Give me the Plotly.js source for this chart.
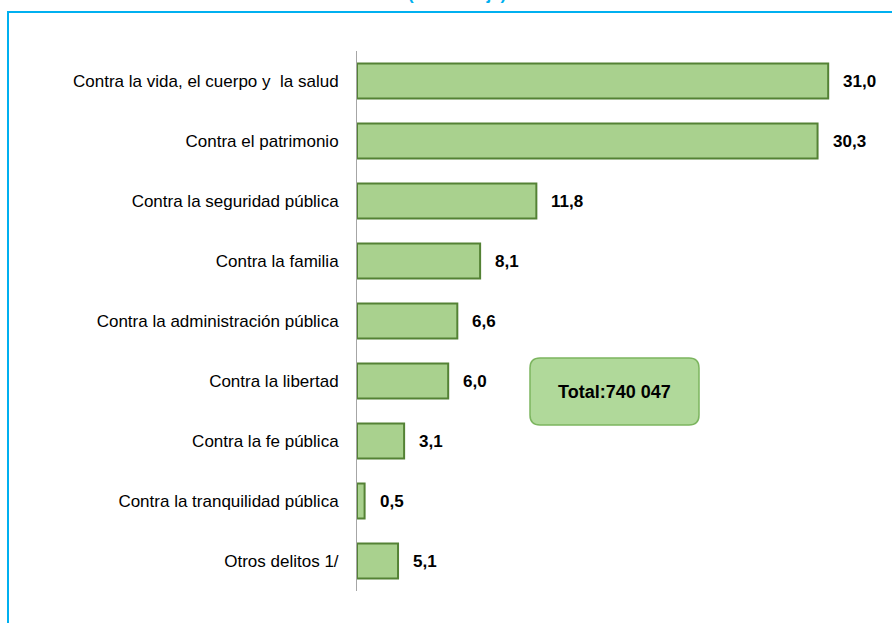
<!DOCTYPE html>
<html><head><meta charset="utf-8">
<script src="https://cdn.plot.ly/plotly-3.0.1.min.js"></script>
<style>html,body{margin:0;padding:0;background:#fff;}#chart{width:892px;height:623px;}</style>
</head><body><div id="chart"></div>
<script>
const categories = [
  "Contra la vida, el cuerpo y  la salud",
  "Contra el patrimonio",
  "Contra la seguridad pública",
  "Contra la familia",
  "Contra la administración pública",
  "Contra la libertad",
  "Contra la fe pública",
  "Contra la tranquilidad pública",
  "Otros delitos 1/"
];
// printed percentages
const values = [31.0, 30.3, 11.8, 8.1, 6.6, 6.0, 3.1, 0.5, 5.1];
// bar lengths as drawn in the picture (the "Otros" bar is drawn shorter than its label)
const barLengths = [31.0, 30.3, 11.8, 8.1, 6.6, 6.0, 3.1, 0.5, 2.7];
const totalLabel = "Total:740 047";
const subtitle = "(Porcentaje)";

const FONT = "'Liberation Sans Narrow', 'Arial Narrow', 'Liberation Sans', Arial, sans-serif";

const trace = {
  type: 'bar', orientation: 'h',
  y: categories, x: barLengths,
  marker: {color: '#a9d18e', line: {color: '#548235', width: 2}},
  width: 0.58, hoverinfo: 'none'
};

const valueAnnotations = categories.map((c, i) => ({
  x: barLengths[i], y: c, xref: 'x', yref: 'y',
  xanchor: 'left', xshift: 13, showarrow: false,
  text: "<b>" + values[i].toFixed(1).replace('.', ',') + "</b>",
  font: {family: FONT, size: 17, color: '#000'}
}));

const bx0 = (530 - 357) / 532, bx1 = (699 - 357) / 532;
const by0 = 1 - (425 - 51) / 540, by1 = 1 - (358 - 51) / 540;
const rx = 10 / 532, ry = 10 / 540;
const boxPath = `M ${bx0+rx},${by0} L ${bx1-rx},${by0} Q ${bx1},${by0} ${bx1},${by0+ry} L ${bx1},${by1-ry} Q ${bx1},${by1} ${bx1-rx},${by1} L ${bx0+rx},${by1} Q ${bx0},${by1} ${bx0},${by1-ry} L ${bx0},${by0+ry} Q ${bx0},${by0} ${bx0+rx},${by0} Z`;

const layout = {
  width: 892, height: 623,
  margin: {l: 357, r: 3, t: 51, b: 32},
  paper_bgcolor: '#fff', plot_bgcolor: '#fff',
  showlegend: false,
  xaxis: {range: [0, 35], visible: false, fixedrange: true},
  yaxis: {
    autorange: 'reversed',
    showline: true, linecolor: '#a6a6a6', linewidth: 1,
    ticks: '', ticklabelstandoff: 14,
    tickfont: {family: FONT, size: 17, color: '#000'},
    showgrid: false, zeroline: false
  },
  shapes: [
    {type: 'rect', xref: 'paper', yref: 'paper',
     x0: (8 - 357) / 532, x1: 1.2, y0: -0.2, y1: 1 + (51 - 12) / 540,
     line: {color: '#00b0f0', width: 2}, fillcolor: 'rgba(0,0,0,0)'},
    {type: 'path', xref: 'paper', yref: 'paper', path: boxPath,
     line: {color: '#7cb55f', width: 1.5}, fillcolor: '#b0d99a'}
  ],
  annotations: valueAnnotations.concat([
    {xref: 'paper', yref: 'paper', x: (614 - 357) / 532, y: 1 - (392 - 51) / 540,
     xanchor: 'center', text: "<b>" + totalLabel + "</b>", showarrow: false,
     font: {family: FONT, size: 18, color: '#000'}},
    {xref: 'paper', yref: 'paper', x: (457 - 357) / 532, y: 1 + (51 - 6) / 540,
     xanchor: 'center', yanchor: 'bottom', text: "<b>" + subtitle + "</b>", showarrow: false,
     font: {family: FONT, size: 17, color: '#00b0f0'}}
  ])
};

Plotly.newPlot('chart', [trace], layout, {displayModeBar: false, staticPlot: true});
</script></body></html>
